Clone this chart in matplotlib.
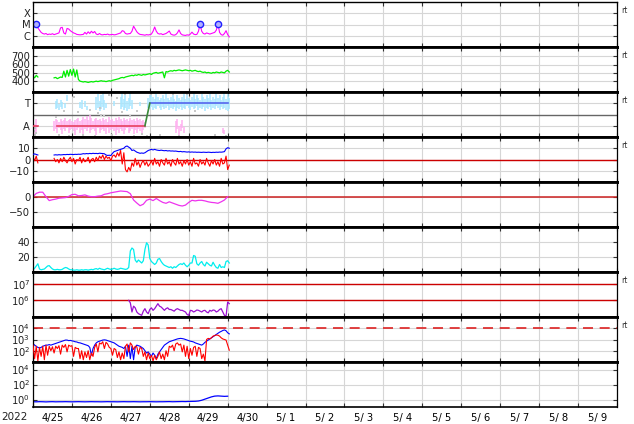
import matplotlib
matplotlib.use("Agg")
import matplotlib.pyplot as plt
import matplotlib.dates as mdates
from matplotlib.ticker import NullLocator, NullFormatter, FuncFormatter
import numpy as np
import pandas as pd

nan = np.nan

# ---- data (hourly unless noted) ----
start = "2022-04-25"
end = "2022-05-10"

# GOES X-ray flux, log10 W/m2
xray_log = [
    -5.1, -5.0, -4.94, -5.3, -5.5, -5.7, -5.8, -5.85, -5.8, -5.9, -5.85, -5.88,
    -5.82, -5.9, -5.85, -5.8, -5.75, -5.3, -5.25, -5.75, -5.85, -5.35, -5.4, -5.55,
    -5.65, -5.75, -5.8, -5.88, -5.9, -5.92, -5.9, -5.88, -5.7, -5.85, -5.65, -5.8,
    -5.6, -5.75, -5.62, -5.85, -5.9, -5.8, -5.9, -5.92, -5.88, -5.9, -5.85, -5.92,
    -5.9, -5.88, -5.92, -5.9, -5.85, -5.8, -5.75, -5.55, -5.6, -5.8, -5.85, -5.82,
    -5.8, -5.6, -5.15, -5.4, -5.65, -5.8, -5.88, -5.9, -5.92, -5.95, -5.9, -5.93,
    -5.9, -5.85, -5.6, -5.22, -5.6, -5.8, -5.85, -5.82, -5.9, -5.85, -5.8, -5.7,
    -5.58, -5.85, -5.92, -5.95, -5.9, -5.75, -5.48, -5.8, -5.92, -5.95, -5.97, -5.92,
    -5.95, -5.85, -5.68, -5.85, -5.9, -5.88, -5.6, -4.94, -5.6, -5.8, -5.85, -5.75,
    -5.8, -5.85, -5.8, -5.75, -5.7, -5.5, -4.94, -5.7, -5.9, -5.95, -5.8, -5.55,
    -5.9, -6.1,
]
flare_hours = [2, 103, 114]
flare_log = [-4.94, -4.94, -4.94]

# solar wind speed km/s
speed = [
    460, 440, 470, 450, nan, nan, nan, nan, nan, nan, nan, nan,
    nan, 440, 445, 430, 440, 450, 445, 520, 450, 530, 460, 540,
    470, 545, 450, 535, 420, 400, 395, 390, 395, 390, 385, 390,
    395, 390, 395, 400, 395, 400, 405, 400, 400, 395, 400, 405,
    400, 410, 415, 420, 425, 430, 440, 445, 440, 450, 455, 460,
    465, 470, 465, 475, 470, 480, 475, 470, 480, 475, 480, 485,
    490, 480, 495, 500, 505, 495, 500, 505, 510, 440, 515, 510,
    520, 525, 520, 530, 525, 530, 535, 530, 525, 530, 535, 530,
    525, 530, 520, 525, 530, 520, 515, 520, 510, 505, 510, 500,
    505, 500, 495, 505, 500, 510, 505, 500, 510, 505, 500, 520,
    530, 510,
]

# IMF sector: phi samples (hourly ranges) and sector lines
pink_hours = [0, 1, 2] + list(range(13, 70)) + list(range(88, 94)) + [117, 118]
pink_lo = [
    -1.8, -1.9, -1.6,
    -1.5, -1.3, -1.6, -1.2, -1.4, -1.7, -1.3, -1.5, -1.2, -1.6, -1.4, -1.3,
    -1.5, -1.8, -1.4, -1.2, -1.6, -1.4, -1.7, -1.3, -1.5, -1.2, -1.6, -1.4,
    -1.3, -1.5, -1.8, -1.2, -1.6, -1.4, -1.3, -1.5, -1.7, -1.2, -1.6, -1.4,
    -1.3, -1.5, -1.8, -1.4, -1.6, -1.3, -1.5, -1.7, -1.4, -1.2, -1.6, -1.5,
    -1.3, -1.7, -1.4, -1.6, -1.3, -1.5, -1.8, -1.4, -1.2,
    -1.6, -1.3, -1.8, -1.5, -1.2, -1.6,
    -1.6, -1.7,
]
pink_hi = [
    -0.5, -0.8, -0.4,
    -0.6, -0.4, -0.5, -0.7, -0.4, -0.6, -0.5, -0.3, -0.6, -0.5, -0.4, -0.6,
    -0.7, -0.5, -0.4, -0.3, -0.6, -0.5, -0.2, -0.4, -0.1, -0.5, 0.0, -0.3,
    -0.6, -0.4, -0.3, -0.5, -0.4, -0.6, -0.3, -0.5, -0.4, -0.7, -0.2, -0.5,
    -0.4, -0.6, -0.3, -0.5, -0.2, -0.4, -0.6, -0.3, -0.5, -0.4, -0.6, -0.3,
    -0.5, -0.4, -0.6, -0.3, -0.5, -0.4, -0.6, -0.5, -0.7,
    -0.6, -0.4, -1.0, -0.8, -0.5, -1.1,
    -1.2, -1.4,
]
cyan_hours = [14, 15, 16, 17, 18, 20, 21, 29, 30, 32, 33, 39, 40, 41, 42, 43, 44,
              45, 50, 54, 55, 56, 57, 58, 59, 60, 61, 66] + list(range(71, 122))
cyan_lo = [
    0.5, 0.6, 0.4, 0.7, 0.5, 0.6, 1.2, 0.6, 0.5, 0.7, 0.4, 0.4, 0.6, 0.3,
    0.5, 0.7, 0.4, 0.6, 0.8, 0.5, 0.7, 0.4, 0.6, 0.3, 0.5, 0.8, 0.5, 0.8,
    0.6, 0.5, 0.7, 0.4, 0.6, 0.5, 0.8, 0.6, 0.4, 0.7, 0.5, 0.6,
    0.8, 0.4, 0.6, 0.5, 0.7, 0.3, 0.6, 0.5, 0.7, 0.4, 0.6, 0.5,
    0.8, 0.6, 0.4, 0.7, 0.5, 0.6, 0.8, 0.4, 0.6, 0.5, 0.7, 0.3,
    0.6, 0.5, 0.7, 0.4, 0.6, 0.5, 0.8, 0.6, 0.4, 0.7, 0.5, 0.6,
    0.4, 0.3, 0.5,
]
cyan_hi = [
    1.2, 1.4, 0.9, 1.3, 1.1, 1.0, 1.7, 1.1, 1.3, 1.2, 0.8, 1.6, 1.8, 1.2,
    1.7, 1.9, 1.3, 1.0, 1.2, 1.6, 1.9, 1.4, 1.8, 1.2, 1.5, 1.9, 1.3, 1.1,
    1.5, 1.7, 1.9, 1.6, 1.4, 1.8, 1.6, 1.3, 1.5, 1.7, 1.4, 1.9,
    1.5, 1.3, 1.6, 1.8, 1.4, 1.2, 1.7, 1.5, 1.3, 1.6, 1.8, 1.4,
    1.7, 1.5, 1.3, 1.6, 1.9, 1.4, 1.7, 1.5, 1.3, 1.8, 1.6, 1.4,
    1.7, 1.5, 1.9, 1.3, 1.6, 1.4, 1.8, 1.5, 1.7, 1.3, 1.6, 1.9,
    1.4, 1.8, 1.5,
]
gray_hours = [0.5, 1, 1.5, 2, 14, 16, 19, 22, 25, 28, 31, 35, 38, 40, 41, 42, 44,
              47, 49, 52, 55, 57, 60, 62, 64, 67, 70, 73, 78, 86, 90, 95, 100,
              108, 112, 119]
gray_vals = [-1.5, -1.8, -1.2, -1.6, -0.2, -1.8, 0.3, -1.9, 1.6, 0.2, -1.8, 0.4,
             -1.9, 0.1, 0.6, 0.0, -0.1, 1.7, -1.85, 1.5, 0.2, 1.8, -0.1, -1.9,
             0.3, -1.7, -1.9, 1.85, -1.8, 1.8, -1.9, 1.85, 0.3, 1.9, -1.85, -1.9]
sector_start = [0, 14.5, 72]
sector_end = [3, 69, 120]
sector_sign = [-1, -1, 1]

# IMF Bt and Bz, nT
bt = [
    4.5, 5, 4.5, 4, nan, nan, nan, nan, nan, nan, nan, nan,
    nan, 4, 4.2, 4, 4.3, 4.1, 4.2, 4.4, 4.3, 4.5, 4.4, 4.6,
    4.5, 4.4, 4.6, 4.5, 4.7, 4.6, 4.8, 5.2, 5, 5.3, 5.1, 5.4,
    5.2, 5.5, 5.3, 5.4, 5.2, 5.6, 5.4, 5.3, 5.1, 4, 3.6, 3.8,
    3.5, 5.5, 7, 7.5, 8, 8.5, 9, 9.5, 10, 11.5, 12, 11,
    10, 8, 8.5, 7.5, 6.5, 6, 5.5, 5.8, 5.5, 6, 7, 8,
    8.5, 9, 8.5, 9, 8.5, 8.2, 8, 8.3, 8, 7.8, 8, 7.6,
    7.8, 7.5, 7.6, 7.4, 7.5, 7.2, 7, 7.2, 6.8, 7, 6.8, 6.6,
    6.8, 6.5, 6.7, 6.5, 6.6, 6.4, 6.5, 6.4, 6.3, 6.5, 6.4, 6.3,
    6.5, 6.4, 6.2, 6.4, 6.3, 6.5, 6.4, 6.6, 6.5, 6.7, 7, 9.5,
    10.5, 10,
]
bz = [
    2, -1, 3, -3, nan, nan, nan, nan, nan, nan, nan, nan,
    nan, 1, -2, 0, -3, 1, -2, 2, -1, -3, 0, 2,
    -2, 1, -4, 0, -1, 2, -3, 1, -2, -1, 2, -3,
    0, 1, -2, 2, -1, 3, 1, 4, 0, 3, 1, 2,
    -1, 3, 4, 2, 6, 3, 8, -4, 6, -9, -11, -7,
    -10, -3, -6, 1, -5, -2, -7, -3, -1, -5, -2, -6,
    -4, -1, -5, 1, -4, -2, -6, 0, -3, -5, 1, -4,
    -2, -6, 0, -3, -5, 1, -4, -2, -6, -1, -4, 0,
    -5, -2, -6, 1, -4, -3, -6, 0, -4, -2, -5, 1,
    -3, -6, -1, -4, 0, -5, -2, -6, 1, -4, -3, 3,
    -9, -5,
]

# Dst, nT (every 2 h)
dst = [
    1, 12, 16, 16, 1, -12, -9, -7, -4, -3, -2, 2,
    8, 9, 4, 5, 7, 3, 1, 1, 3, 4, 9, 11,
    14, 16, 18, 20, 19, 18, 11, -10, -20, -29, -24, -11,
    -7, -12, -5, -12, -18, -21, -16, -20, -24, -28, -30, -27,
    -18, -11, -13, -11, -11, -13, -16, -18, -19, -21, -16, -10,
    1,
]

# proton density-like trace
density = [
    3, 5, 8, 11, 4, 3, 3.5, 4, 6, 8, 8.5, 6,
    4, 3, 3, 3.5, 3, 3, 3.5, 5, 6, 5.5, 4, 3,
    3, 2.5, 2.5, 3, 2.5, 2.5, 3, 2.5, 3, 3, 2.5, 3,
    3.5, 3, 4, 4.5, 3.5, 5, 4, 3.5, 3, 4, 5, 4,
    3.5, 4, 5, 4, 3.5, 4, 5, 4.5, 4, 3.5, 4, 6,
    28, 32, 30, 16, 13, 16, 14, 12, 15, 30, 39, 36,
    18, 14, 12, 10, 12, 17, 18, 14, 11, 9, 8, 7,
    6, 7, 5, 7, 6, 8, 10, 11, 10, 12, 9, 7,
    9, 12, 12, 22, 21, 11, 9, 12, 14, 10, 8, 13,
    11, 9, 8, 13, 9, 6, 5, 10, 6, 7, 6, 14,
    15, 12,
]

# electron fluence, log10
electron_log = [nan] * 59 + [
    6.0,
    5.85, 5.3, 5.65, 5.55, 5.3, 5.2, 5.15, 5.1, 5.35, 5.5, 5.3, 5.2,
    5.45, 5.55, 5.4, 5.5, 5.65, 5.8, 5.65, 5.6, 5.5, 5.4, 5.5, 5.55,
    5.45, 5.45, 5.4, 5.35, 5.45, 5.5, 5.45, 5.4, 5.4, 5.35, 5.3, 5.15,
    5.1, 5.4, 5.38, 5.3, 5.35, 5.42, 5.4, 5.35, 5.3, 5.38, 5.4, 5.3,
    5.25, 5.4, 5.35, 5.42, 5.4, 5.3, 5.35, 5.45, 5.5, 5.3, 5.1, 5.05,
    5.9, 5.8,
]

# electron flux, two channels, log10
flux_blue_log = [
    2.65, 2.5, 2.4, 2.3, 2.25, 2.3, 2.4, 2.45, 2.5, 2.5, 2.55, 2.5,
    2.55, 2.6, 2.65, 2.7, 2.75, 2.8, 2.85, 2.9, 2.95, 2.95, 2.9, 2.92,
    2.88, 2.85, 2.8, 2.78, 2.72, 2.7, 2.65, 2.6, 2.55, 2.5, 2.45, 2.3,
    1.6, 2.2, 2.5, 2.7, 2.8, 2.85, 2.9, 2.95, 2.97, 2.95, 2.9, 2.85,
    2.8, 2.75, 2.7, 2.6, 2.5, 2.4, 2.35, 2.3, 2.2, 2.4, 1.5, 2.5,
    1.3, 2.4, 1.2, 2.3, 2.5, 2.45, 2.4, 2.3, 2.2, 2.0, 1.8, 1.9,
    1.7, 1.5, 1.8, 1.6, 1.3, 1.7, 1.9, 2.1, 2.3, 2.5, 2.6, 2.7,
    2.8, 2.85, 2.9, 2.95, 3.0, 3.05, 3.08, 3.1, 3.08, 3.05, 3.0, 2.95,
    2.9, 2.85, 2.82, 2.78, 2.7, 2.65, 2.6, 2.55, 2.5, 2.6, 2.75, 2.85,
    2.95, 3.05, 3.15, 3.25, 3.35, 3.45, 3.55, 3.65, 3.72, 3.8, 3.85, 3.78,
    3.6, 3.5,
]
flux_red_log = [
    2.5, 1.3, 2.4, 1.1, 2.3, 1.5, 2.4, 1.2, 2.5, 1.6, 2.4, 2.0,
    2.35, 1.8, 2.4, 2.2, 2.45, 1.7, 2.5, 2.3, 2.55, 1.9, 2.5, 2.4,
    2.45, 1.5, 2.3, 2.2, 2.2, 1.3, 2.0, 1.2, 1.9, 1.4, 2.0, 1.2,
    1.8, 1.5, 2.3, 2.6, 1.9, 2.7, 2.6, 2.8, 2.2, 2.75, 2.6, 2.3,
    2.2, 1.6, 2.2, 2.1, 1.4, 1.9, 1.2, 1.8, 1.3, 2.4, 2.6, 1.9,
    2.7, 2.5, 2.1, 2.4, 2.35, 1.7, 2.3, 2.2, 1.5, 1.9, 1.2, 1.8,
    1.3, 1.6, 1.1, 1.6, 1.2, 1.5, 1.9, 1.3, 1.7, 1.2, 2.0, 1.5,
    2.4, 2.3, 2.5, 2.0, 2.6, 2.7, 2.5, 2.6, 1.9, 2.5, 1.5, 2.4,
    1.3, 2.2, 1.6, 2.3, 2.4, 1.5, 2.3, 2.2, 1.3, 1.7, 1.1, 3.0,
    3.1, 3.05, 3.15, 3.3, 3.35, 3.4, 3.38, 3.3, 3.15, 3.05, 3.0, 2.95,
    2.5, 2.05,
]

# high energy flux, log10 (every 2 h)
high_log = [
    -0.30, -0.31, -0.29, -0.30, -0.32, -0.30, -0.29, -0.31, -0.30, -0.30,
    -0.29, -0.30, -0.31, -0.30, -0.29, -0.30, -0.31, -0.30, -0.29, -0.30,
    -0.30, -0.31, -0.30, -0.29, -0.30, -0.30, -0.31, -0.30, -0.29, -0.30,
    -0.30, -0.29, -0.30, -0.31, -0.30, -0.30, -0.29, -0.30, -0.31, -0.30,
    -0.30, -0.29, -0.28, -0.30, -0.29, -0.28, -0.27, -0.28, -0.26, -0.25,
    -0.24, -0.20, -0.10, 0.05, 0.20, 0.35, 0.45, 0.48, 0.45, 0.42, 0.44,
]

T0 = pd.Timestamp(start)


def when(hours):
    return T0 + pd.to_timedelta(np.asarray(hours, dtype=float), unit="h")


hourly = when(np.arange(len(xray_log)))
twohourly = when(np.arange(len(dst)) * 2)

# ---- figure ----
fig, axes = plt.subplots(9, 1, figsize=(6.34, 4.24), dpi=100, sharex=True)
fig.subplots_adjust(left=33 / 634, right=617 / 634, top=1 - 2 / 424,
                    bottom=1 - 407 / 424, hspace=0)

grid_c = "#d6d6d6"
for i, ax in enumerate(axes):
    ax.grid(True, color=grid_c, lw=0.8, zorder=0)
    ax.set_axisbelow(True)
    ax.tick_params(which="major", direction="in", length=3, top=True, right=True,
                   labelsize=7.2, pad=2, color="#333333", labelcolor="#222222")
    ax.tick_params(which="minor", length=0, labelsize=7.2, pad=4)
    for side in ("left", "right"):
        ax.spines[side].set_linewidth(0.9)
    ax.spines["top"].set_linewidth(1.0 if i == 0 else 2.0)
    ax.spines["bottom"].set_linewidth(1.2 if i == 8 else 2.0)

ax0 = axes[-1]
ax0.set_xlim(pd.Timestamp(start), pd.Timestamp(end))
ax0.xaxis.set_major_locator(mdates.DayLocator())
ax0.xaxis.set_major_formatter(NullFormatter())
ax0.xaxis.set_minor_locator(mdates.HourLocator(byhour=12))
ax0.xaxis.set_minor_formatter(
    FuncFormatter(lambda x, pos: "%d/%2d" % (mdates.num2date(x).month, mdates.num2date(x).day)))

# 1. X-ray
ax = axes[0]
ax.set_yscale("log")
ax.plot(hourly, 10 ** np.array(xray_log), color="#ff00ff", lw=0.8)
ax.plot(when(flare_hours), 10 ** np.array(flare_log), "o", ms=4.5, mfc="#b0b0ff",
        mec="#2020ff", mew=1)
ax.set_ylim(1e-7, 1e-3)
ax.set_yticks([1e-6, 1e-5, 1e-4], ["C", "M", "X"])
ax.yaxis.set_minor_locator(NullLocator())

# 2. speed
ax = axes[1]
ax.plot(hourly, speed, color="#00ee00", lw=0.9)
ax.set_ylim(270, 810)
ax.set_yticks([400, 500, 600, 700])

# 3. sector
ax = axes[2]
ax.axhline(0, color="#666666", lw=1, zorder=1)
ax.vlines(when(pink_hours), pink_lo, pink_hi, color="#ffb0f0", lw=1.1, zorder=2)
ax.vlines(when(cyan_hours), cyan_lo, cyan_hi, color="#a8e6ff", lw=1.1, zorder=2)
ax.plot(when(gray_hours), gray_vals, "s", ms=1.8, color="#c8c8c8", mew=0, zorder=2)
for s, e, sg in zip(sector_start, sector_end, sector_sign):
    ax.plot(when([s, e]), [sg, sg], color="#e84060" if sg < 0 else "#5566ee",
            lw=1.2, zorder=3)
for k in range(len(sector_start) - 1):
    if sector_sign[k] != sector_sign[k + 1]:
        ax.plot(when([sector_end[k], sector_start[k + 1]]),
                [sector_sign[k], sector_sign[k + 1]], color="#3a8a3a", lw=1.2, zorder=3)
ax.set_ylim(-2, 2)
ax.set_yticks([-1, 1], ["A", "T"])

# 4. Bt / Bz
ax = axes[3]
ax.axhline(0, color="#cc0000", lw=1, zorder=1)
ax.plot(hourly, bz, color="#ff0000", lw=0.8, zorder=2)
ax.plot(hourly, bt, color="#0000ff", lw=0.8, zorder=3)
ax.set_ylim(-20, 20)
ax.set_yticks([-10, 0, 10], ["\u221210", "0", "10"])

# 5. Dst
ax = axes[4]
ax.axhline(0, color="#cc2222", lw=1.1, zorder=1)
ax.plot(twohourly, dst, color="#ee33ee", lw=0.9, zorder=2)
ax.set_ylim(-100, 50)
ax.set_yticks([-50, 0], ["\u221250", "0"])

# 6. density
ax = axes[5]
ax.plot(hourly, density, color="#00eeee", lw=0.9)
ax.set_ylim(0, 60)
ax.set_yticks([20, 40])

# 7. electron fluence
ax = axes[6]
ax.set_yscale("log")
ax.axhline(1e6, color="#cc0000", lw=1, zorder=1)
ax.axhline(1e7, color="#cc0000", lw=1, zorder=1)
ax.plot(hourly, 10 ** np.array(electron_log), color="#9a10d0", lw=0.9, zorder=2)
ax.set_ylim(1e5, 5e7)
ax.set_yticks([1e6, 1e7], [r"$10^6$", r"$10^7$"])
ax.yaxis.set_minor_locator(NullLocator())

# 8. electron flux
ax = axes[7]
ax.set_yscale("log")
ax.axhline(1e4, color="#dd2222", lw=1.2, ls=(0, (6, 4)), zorder=1)
ax.plot(hourly, 10 ** np.array(flux_blue_log), color="#0000ff", lw=0.8, zorder=2)
ax.plot(hourly, 10 ** np.array(flux_red_log), color="#ff0000", lw=0.8, zorder=3)
ax.set_ylim(1e1, 1e5)
ax.set_yticks([1e2, 1e3, 1e4], [r"$10^2$", r"$10^3$", r"$10^4$"])
ax.yaxis.set_minor_locator(NullLocator())

# 9. high energy
ax = axes[8]
ax.set_yscale("log")
ax.plot(twohourly, 10 ** np.array(high_log), color="#0000ff", lw=0.9)
ax.set_ylim(1e-1, 1e5)
ax.set_yticks([1e0, 1e2, 1e4], [r"$10^0$", r"$10^2$", r"$10^4$"])
ax.yaxis.set_minor_locator(NullLocator())

for i in (0, 1, 2, 3, 6, 7):
    axes[i].text(1.008, 0.82, "rt", transform=axes[i].transAxes, fontsize=5.5,
                 color="#333333", va="center", ha="left")

fig.text(1 / 634, 1 - 417 / 424, "2022", fontsize=7.5, color="#222222",
         va="center", ha="left")

fig.savefig("out.png", dpi=100)
